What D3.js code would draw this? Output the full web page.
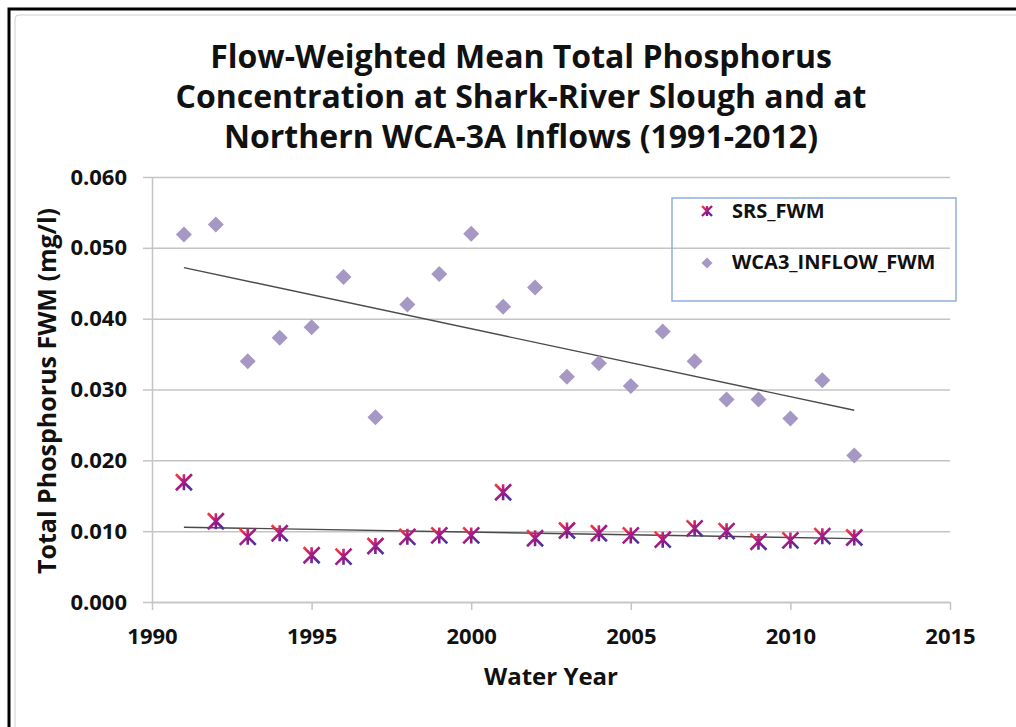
<!DOCTYPE html>
<html>
<head>
<meta charset="utf-8">
<script src="https://cdn.jsdelivr.net/npm/d3@7"></script>
<style>
  body { margin: 0; background: #fff; overflow: hidden; }
  svg { display: block; font-family: "Open Sans", sans-serif; }
  .tick text { font-weight: 700; fill: #111; font-family: "Open Sans", sans-serif; }
</style>
</head>
<body>
<svg id="chart" width="1016" height="727"></svg>
<script>
// Data
const years = d3.range(1991, 2013);
const srsFwm = [0.0169, 0.0114, 0.0092, 0.0097, 0.0066, 0.0064, 0.0079, 0.0092, 0.0094, 0.0094, 0.0155,
    0.0090, 0.0101, 0.0097, 0.0094, 0.0088, 0.0104, 0.0100, 0.0085, 0.0087, 0.0093, 0.0091];
const wca3InflowFwm = [0.0519, 0.0533, 0.0340, 0.0373, 0.0388, 0.0459, 0.0261, 0.0420, 0.0463, 0.0520, 0.0417,
    0.0444, 0.0318, 0.0337, 0.0305, 0.0382, 0.0340, 0.0286, 0.0286, 0.0259, 0.0313, 0.0207];
const xTicks = [1990, 1995, 2000, 2005, 2010, 2015];
const yTicks = [0, 0.01, 0.02, 0.03, 0.04, 0.05, 0.06];
const seriesNames = ['SRS_FWM', 'WCA3_INFLOW_FWM'];
const titleLines = ['Flow-Weighted Mean Total Phosphorus', 'Concentration at Shark-River Slough and at', 'Northern WCA-3A Inflows (1991-2012)'];

const svg = d3.select('#chart');

// outer frame
svg.append('rect')
    .attr('x', 9).attr('y', 9)
    .attr('width', 1200).attr('height', 900)
    .attr('fill', 'none')
    .attr('stroke', '#000')
    .attr('stroke-width', 3);
svg.append('rect')
    .attr('x', 15).attr('y', 15)
    .attr('rx', 4)
    .attr('width', 1200).attr('height', 900)
    .attr('fill', 'none')
    .attr('stroke', '#d0d0d0')
    .attr('stroke-width', 1);

const margin = { top: 177, left: 152 };
const width = 950 - 152;
const height = 602 - 177;

const g = svg.append('g')
    .attr('transform', `translate(${margin.left},${margin.top})`);

const xScale = d3.scaleLinear().domain([1990, 2015]).range([0, width]);
const yScale = d3.scaleLinear().domain([0, 0.06]).range([height, 0]);

// gridlines
g.append('g')
    .attr('class', 'grid')
    .call(d3.axisLeft(yScale).tickValues(yTicks).tickSize(-width).tickFormat(''))
    .call(s => s.select('.domain').remove())
    .call(s => s.selectAll('line').attr('stroke', '#c4c4c4').attr('stroke-width', 1.5));

// y axis
g.append('g')
    .attr('class', 'y-axis')
    .call(d3.axisLeft(yScale).tickValues(yTicks).tickFormat(d3.format('.3f'))
        .tickSize(9).tickSizeOuter(0).tickPadding(16))
    .attr('font-family', null)
    .call(s => s.select('.domain').attr('stroke', '#c4c4c4').attr('stroke-width', 1.5))
    .call(s => s.selectAll('line').attr('stroke', '#c4c4c4').attr('stroke-width', 1.5))
    .call(s => s.selectAll('text').style('font-size', '22px'));

// x axis
g.append('g')
    .attr('class', 'x-axis')
    .attr('transform', `translate(0,${height})`)
    .call(d3.axisBottom(xScale).tickValues(xTicks).tickFormat(d3.format('d'))
        .tickSize(8).tickSizeOuter(0).tickPadding(18))
    .attr('font-family', null)
    .call(s => s.select('.domain').attr('stroke', '#c4c4c4').attr('stroke-width', 1.5))
    .call(s => s.selectAll('line').attr('stroke', '#c4c4c4').attr('stroke-width', 1.5))
    .call(s => s.selectAll('text').style('font-size', '22px'));

// title
svg.append('g')
    .selectAll('text')
    .data(titleLines)
    .join('text')
    .attr('x', 521)
    .attr('y', (d, i) => 68 + i * 40)
    .attr('text-anchor', 'middle')
    .style('font-size', '32px')
    .style('font-weight', 700)
    .attr('fill', '#111')
    .text(d => d);

// axis labels
svg.append('text')
    .attr('transform', 'rotate(-90)')
    .attr('x', -391)
    .attr('y', 56)
    .attr('text-anchor', 'middle')
    .style('font-size', '25px')
    .style('font-weight', 700)
    .attr('fill', '#111')
    .text('Total Phosphorus FWM (mg/l)');

svg.append('text')
    .attr('x', 551)
    .attr('y', 685)
    .attr('text-anchor', 'middle')
    .style('font-size', '24px')
    .style('font-weight', 700)
    .attr('fill', '#111')
    .text('Water Year');

// star gradient
const defs = svg.append('defs');
const grad = defs.append('linearGradient')
    .attr('id', 'starGrad')
    .attr('x1', '0').attr('y1', '0').attr('x2', '1').attr('y2', '1');
grad.append('stop').attr('offset', '0%').attr('stop-color', '#ff3b2f');
grad.append('stop').attr('offset', '35%').attr('stop-color', '#c0207a');
grad.append('stop').attr('offset', '60%').attr('stop-color', '#8a1a8c');
grad.append('stop').attr('offset', '100%').attr('stop-color', '#3b3aa8');

const starPath = r => `M${-r},${-r}L${r},${r}M${r},${-r}L${-r},${r}M0,${-r}L0,${r}`;
const diamondPath = r => `M0,${-r}L${r},0L0,${r}L${-r},0Z`;

// trend lines
function linearRegression(xs, ys) {
    const n = xs.length;
    const xMean = d3.mean(xs), yMean = d3.mean(ys);
    let num = 0, den = 0;
    for (let i = 0; i < n; i++) {
        num += (xs[i] - xMean) * (ys[i] - yMean);
        den += (xs[i] - xMean) * (xs[i] - xMean);
    }
    const slope = num / den;
    return { slope, intercept: yMean - slope * xMean };
}

[wca3InflowFwm, srsFwm].forEach(vals => {
    const reg = linearRegression(years, vals);
    const ends = d3.extent(years);
    g.append('line')
        .attr('x1', xScale(ends[0]))
        .attr('y1', yScale(reg.slope * ends[0] + reg.intercept))
        .attr('x2', xScale(ends[1]))
        .attr('y2', yScale(reg.slope * ends[1] + reg.intercept))
        .attr('stroke', '#4a4a4a')
        .attr('stroke-width', 1.4);
});

// WCA3 diamonds
g.selectAll('.wca')
    .data(years.map((y, i) => ({ year: y, v: wca3InflowFwm[i] })))
    .join('path')
    .attr('class', 'wca')
    .attr('transform', d => `translate(${xScale(d.year)},${yScale(d.v)})`)
    .attr('d', diamondPath(8))
    .attr('fill', '#a698c4');

// SRS stars
g.selectAll('.srs')
    .data(years.map((y, i) => ({ year: y, v: srsFwm[i] })))
    .join('path')
    .attr('class', 'srs')
    .attr('transform', d => `translate(${xScale(d.year)},${yScale(d.v)})`)
    .attr('d', starPath(8))
    .attr('fill', 'none')
    .attr('stroke', 'url(#starGrad)')
    .attr('stroke-width', 2.6);

// legend
const legend = svg.append('g');
legend.append('rect')
    .attr('x', 672).attr('y', 198)
    .attr('width', 284).attr('height', 103)
    .attr('fill', 'none')
    .attr('stroke', '#8fb0dc')
    .attr('stroke-width', 1.5);
legend.append('path')
    .attr('transform', 'translate(707,211)')
    .attr('d', starPath(5))
    .attr('fill', 'none')
    .attr('stroke', 'url(#starGrad)')
    .attr('stroke-width', 2.4);
legend.append('path')
    .attr('transform', 'translate(707,263)')
    .attr('d', diamondPath(5.5))
    .attr('fill', '#a698c4');
legend.selectAll('text')
    .data(seriesNames)
    .join('text')
    .attr('x', 732)
    .attr('y', (d, i) => 218 + i * 51)
    .style('font-size', '20px')
    .style('font-weight', 700)
    .attr('fill', '#111')
    .text(d => d);
</script>
</body>
</html>
